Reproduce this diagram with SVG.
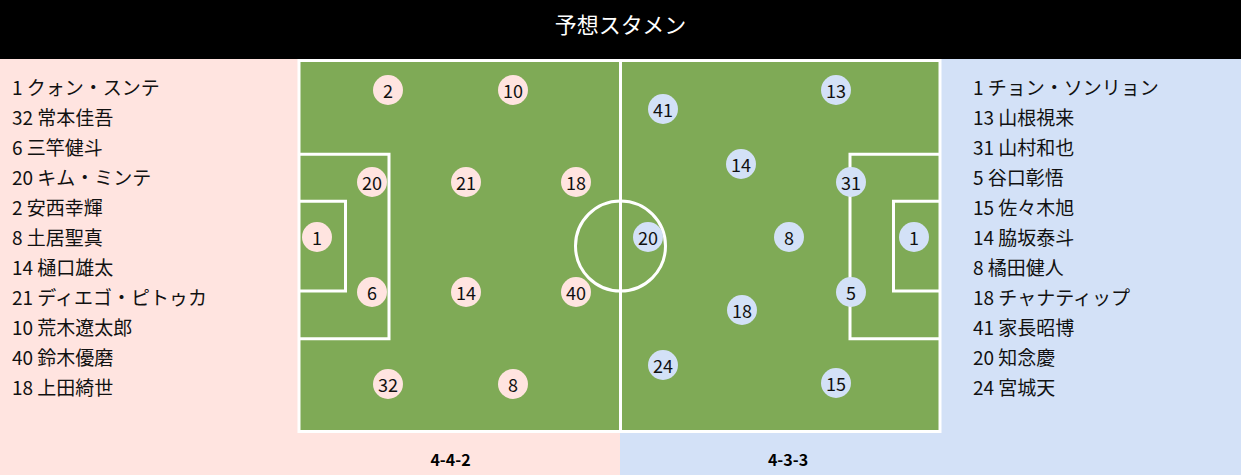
<svg xmlns="http://www.w3.org/2000/svg" width="1241" height="475" viewBox="0 0 1241 475">
<style>
.t{font-family:"Noto Sans CJK JP","Noto Sans",sans-serif;}
.list{font-size:19px;fill:#111;}
.num{font-size:18px;fill:#111;text-anchor:middle;dominant-baseline:central;}
.line{fill:none;stroke:#fff;stroke-width:3;}
.ph{fill:#FFE4E0;}
.pa{fill:#D3E1F7;}
.fm{font-size:16px;font-weight:bold;text-anchor:middle;fill:#000;}
</style>
<rect x="0" y="0" width="1241" height="59" fill="#000"/>
<text class="t" x="620.5" y="33" font-size="22" fill="#fff" text-anchor="middle">予想スタメン</text>
<rect x="0" y="59" width="620" height="416" fill="#FFE4E0"/>
<rect x="620" y="59" width="621" height="416" fill="#D3E1F7"/>
<g id="pitch">
<rect x="299" y="60.5" width="641" height="371" fill="#7FAA56"/>
<rect class="line" x="299" y="60.5" width="641" height="371"/>
<line class="line" x1="620.5" y1="60.5" x2="620.5" y2="431.5"/>
<circle class="line" cx="620.5" cy="246" r="45"/>
<polyline class="line" points="299,154.3 389,154.3 389,338.7 299,338.7"/>
<polyline class="line" points="299,201.3 345.5,201.3 345.5,291 299,291"/>
<polyline class="line" points="940,154.3 850,154.3 850,338.7 940,338.7"/>
<polyline class="line" points="940,201.3 893.5,201.3 893.5,291 940,291"/>
</g>
<g id="home-players" class="t">
<g id="h2"><circle class="ph" cx="388" cy="90" r="15"/><text class="num" x="388" y="90">2</text></g>
<g id="h10"><circle class="ph" cx="513" cy="90" r="15"/><text class="num" x="513" y="90">10</text></g>
<g id="h20"><circle class="ph" cx="372" cy="182" r="15"/><text class="num" x="372" y="182">20</text></g>
<g id="h21"><circle class="ph" cx="466" cy="182" r="15"/><text class="num" x="466" y="182">21</text></g>
<g id="h18"><circle class="ph" cx="576" cy="182" r="15"/><text class="num" x="576" y="182">18</text></g>
<g id="h1"><circle class="ph" cx="317" cy="237" r="15"/><text class="num" x="317" y="237">1</text></g>
<g id="h6"><circle class="ph" cx="372" cy="292" r="15"/><text class="num" x="372" y="292">6</text></g>
<g id="h14"><circle class="ph" cx="466" cy="292" r="15"/><text class="num" x="466" y="292">14</text></g>
<g id="h40"><circle class="ph" cx="576" cy="292" r="15"/><text class="num" x="576" y="292">40</text></g>
<g id="h32"><circle class="ph" cx="388" cy="384" r="15"/><text class="num" x="388" y="384">32</text></g>
<g id="h8"><circle class="ph" cx="513" cy="384" r="15"/><text class="num" x="513" y="384">8</text></g>
</g>
<g id="away-players" class="t">
<g id="a13"><circle class="pa" cx="836" cy="90" r="15"/><text class="num" x="836" y="90">13</text></g>
<g id="a41"><circle class="pa" cx="663" cy="109" r="15"/><text class="num" x="663" y="109">41</text></g>
<g id="a14"><circle class="pa" cx="741" cy="164" r="15"/><text class="num" x="741" y="164">14</text></g>
<g id="a31"><circle class="pa" cx="851" cy="182" r="15"/><text class="num" x="851" y="182">31</text></g>
<g id="a20"><circle class="pa" cx="648" cy="237" r="15"/><text class="num" x="648" y="237">20</text></g>
<g id="a8"><circle class="pa" cx="789" cy="237" r="15"/><text class="num" x="789" y="237">8</text></g>
<g id="a1"><circle class="pa" cx="914" cy="237" r="15"/><text class="num" x="914" y="237">1</text></g>
<g id="a5"><circle class="pa" cx="851" cy="292" r="15"/><text class="num" x="851" y="292">5</text></g>
<g id="a18"><circle class="pa" cx="742" cy="310" r="15"/><text class="num" x="742" y="310">18</text></g>
<g id="a24"><circle class="pa" cx="663" cy="365" r="15"/><text class="num" x="663" y="365">24</text></g>
<g id="a15"><circle class="pa" cx="836" cy="383" r="15"/><text class="num" x="836" y="383">15</text></g>
</g>
<g id="home-list" class="t list">
<text x="12" y="95">1 クォン・スンテ</text>
<text x="12" y="125">32 常本佳吾</text>
<text x="12" y="155">6 三竿健斗</text>
<text x="12" y="185">20 キム・ミンテ</text>
<text x="12" y="215">2 安西幸輝</text>
<text x="12" y="245">8 土居聖真</text>
<text x="12" y="275">14 樋口雄太</text>
<text x="12" y="305">21 ディエゴ・ピトゥカ</text>
<text x="12" y="335">10 荒木遼太郎</text>
<text x="12" y="365">40 鈴木優磨</text>
<text x="12" y="395">18 上田綺世</text>
</g>
<g id="away-list" class="t list">
<text x="973" y="95">1 チョン・ソンリョン</text>
<text x="973" y="125">13 山根視来</text>
<text x="973" y="155">31 山村和也</text>
<text x="973" y="185">5 谷口彰悟</text>
<text x="973" y="215">15 佐々木旭</text>
<text x="973" y="245">14 脇坂泰斗</text>
<text x="973" y="275">8 橘田健人</text>
<text x="973" y="305">18 チャナティップ</text>
<text x="973" y="335">41 家長昭博</text>
<text x="973" y="365">20 知念慶</text>
<text x="973" y="395">24 宮城天</text>
</g>
<text class="t fm" x="450.5" y="466">4-4-2</text>
<text class="t fm" x="788" y="466">4-3-3</text>
</svg>
